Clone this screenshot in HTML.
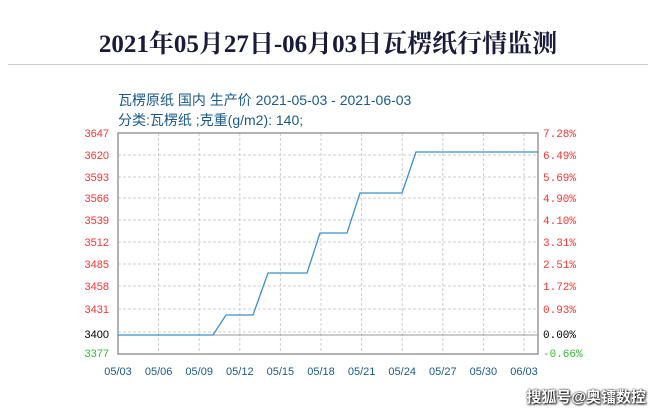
<!DOCTYPE html>
<html><head><meta charset="utf-8"><style>
body{margin:0;width:656px;height:414px;background:#fff;overflow:hidden;position:relative}
.t{position:absolute;left:0;width:656px;top:24px;text-align:center;font:bold 25px "Liberation Serif","Noto Serif CJK SC",serif;color:#1a1a3a}
.hr{position:absolute;left:8px;width:640px;top:64px;height:1px;background:#ccc}
.s{position:absolute;left:118px;font:14px "Liberation Sans","Noto Sans CJK SC",sans-serif;color:#1a5a8a}
.wm{position:absolute;right:10px;top:386px;font:bold 15px "Liberation Sans","Noto Sans CJK SC",sans-serif;color:#fff;text-shadow:0 0 2px #000,1px 1px 2px #000}
</style></head><body>
<div class="t">2021年05月27日-06月03日瓦楞纸行情监测</div>
<div class="hr"></div>
<div class="s" style="top:90px">瓦楞原纸 国内 生产价 2021-05-03 - 2021-06-03</div>
<div class="s" style="top:110px">分类:瓦楞纸 ;克重(g/m2): 140;</div>
<svg width="656" height="414" style="position:absolute;left:0;top:0" font-family="Liberation Sans,sans-serif" font-size="11">
<g stroke="#ccc" stroke-dasharray="3,2">
<line x1="118" x2="538" y1="155" y2="155"/><line x1="118" x2="538" y1="177" y2="177"/><line x1="118" x2="538" y1="198" y2="198"/><line x1="118" x2="538" y1="220" y2="220"/><line x1="118" x2="538" y1="242" y2="242"/><line x1="118" x2="538" y1="264" y2="264"/><line x1="118" x2="538" y1="286" y2="286"/><line x1="118" x2="538" y1="309" y2="309"/><line x1="118" x2="538" y1="332" y2="332"/>
<line x1="158.6" x2="158.6" y1="133" y2="354"/><line x1="199.2" x2="199.2" y1="133" y2="354"/><line x1="239.8" x2="239.8" y1="133" y2="354"/><line x1="280.4" x2="280.4" y1="133" y2="354"/><line x1="321" x2="321" y1="133" y2="354"/><line x1="361.6" x2="361.6" y1="133" y2="354"/><line x1="402.2" x2="402.2" y1="133" y2="354"/><line x1="442.8" x2="442.8" y1="133" y2="354"/><line x1="483.4" x2="483.4" y1="133" y2="354"/><line x1="524" x2="524" y1="133" y2="354"/>
</g>
<line x1="118" x2="538" y1="335" y2="335" stroke="#999"/>
<rect x="118" y="133" width="420" height="221" fill="none" stroke="#999" stroke-width="1.5"/>
<polyline fill="none" stroke="#3a8fd0" stroke-width="1.3" points="118,335 213,335 226,315 253,315 268,273 307,273 320,233 347,233 360,193 402,193 416,152 538,152"/>
<g fill="#f33" text-anchor="end">
<text x="109" y="137">3647</text><text x="109" y="159">3620</text><text x="109" y="181">3593</text><text x="109" y="202">3566</text><text x="109" y="224">3539</text><text x="109" y="246">3512</text><text x="109" y="268">3485</text><text x="109" y="290">3458</text><text x="109" y="313">3431</text>
</g>
<text x="109" y="338" fill="#000" text-anchor="end">3400</text>
<text x="109" y="357" fill="#3b3" text-anchor="end">3377</text>
<g fill="#f33" font-family="Liberation Mono,monospace">
<text x="543" y="137">7.28%</text><text x="543" y="159">6.49%</text><text x="543" y="181">5.69%</text><text x="543" y="202">4.90%</text><text x="543" y="224">4.10%</text><text x="543" y="246">3.31%</text><text x="543" y="268">2.51%</text><text x="543" y="290">1.72%</text><text x="543" y="313">0.93%</text>
</g>
<text x="543" y="338" fill="#000" font-family="Liberation Mono,monospace">0.00%</text>
<text x="543" y="357" fill="#3b3" font-family="Liberation Mono,monospace">-0.66%</text>
<g fill="#1a5a8a" text-anchor="middle">
<text x="118" y="375">05/03</text><text x="158.6" y="375">05/06</text><text x="199.2" y="375">05/09</text><text x="239.8" y="375">05/12</text><text x="280.4" y="375">05/15</text><text x="321" y="375">05/18</text><text x="361.6" y="375">05/21</text><text x="402.2" y="375">05/24</text><text x="442.8" y="375">05/27</text><text x="483.4" y="375">05/30</text><text x="524" y="375">06/03</text>
</g>
</svg>
<div class="wm">搜狐号@奥镭数控</div>
</body></html>
